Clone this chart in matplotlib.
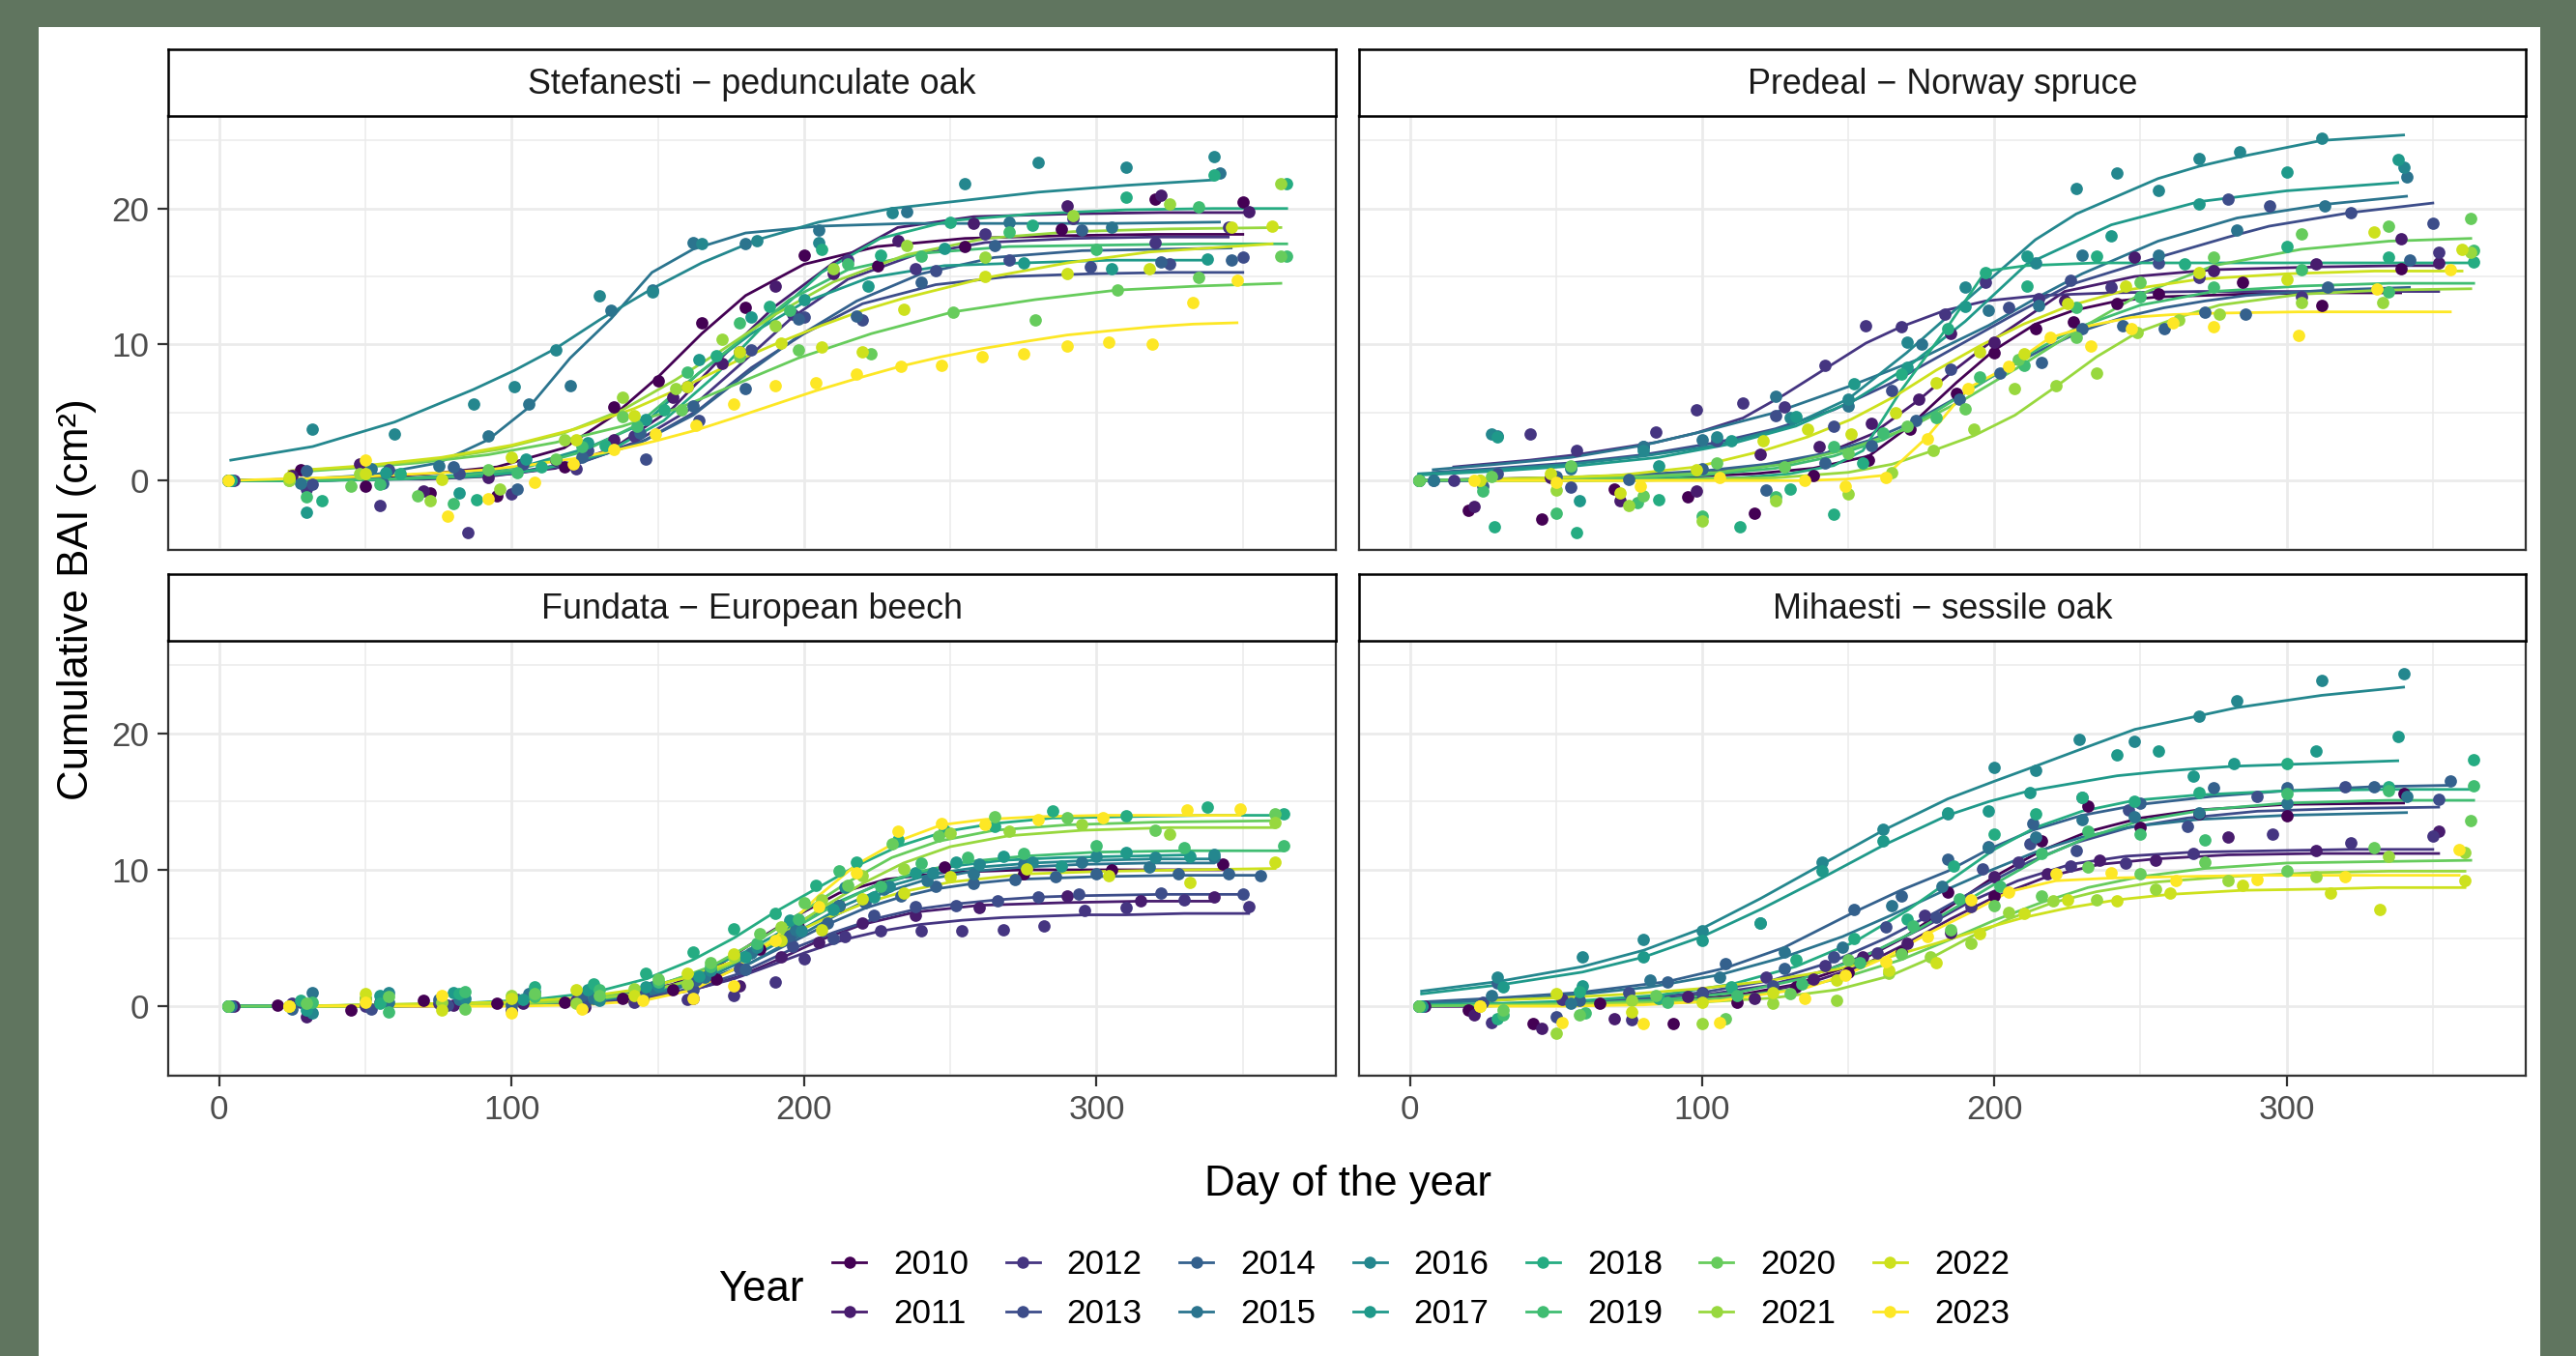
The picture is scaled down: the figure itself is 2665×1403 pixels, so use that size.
import matplotlib
matplotlib.use('Agg')
import matplotlib.pyplot as plt
from matplotlib.lines import Line2D
from matplotlib.patches import Rectangle
import numpy as np

plt.rcParams['font.family'] = ['Liberation Sans', 'DejaVu Sans']

years = list(range(2010, 2024))
panel_titles = ['Stefanesti − pedunculate oak', 'Predeal − Norway spruce',
                'Fundata − European beech', 'Mihaesti − sessile oak']

# ---------------- Stefanesti (pedunculate oak) ----------------
stef_days = [
    [3, 28, 50, 72, 95, 118, 135, 150, 165, 180, 200, 225, 255, 288, 320, 350],
    [3, 25, 48, 70, 92, 115, 135, 155, 172, 190, 210, 232, 258, 290, 322, 352],
    [5, 30, 55, 85, 100, 122, 142, 160, 178, 196, 215, 238, 262, 292, 320, 345],
    [4, 32, 58, 82, 104, 126, 146, 164, 182, 200, 220, 245, 270, 298, 325, 350],
    [3, 30, 56, 80, 102, 124, 144, 162, 180, 198, 218, 240, 265, 295, 322, 346],
    [3, 28, 52, 75, 92, 106, 120, 134, 148, 162, 180, 205, 235, 270, 305, 342],
    [4, 32, 60, 87, 101, 115, 130, 148, 165, 184, 205, 230, 255, 280, 310, 340],
    [3, 30, 57, 82, 105, 126, 146, 164, 182, 200, 222, 248, 275, 305, 338],
    [4, 35, 62, 88, 110, 132, 152, 170, 188, 206, 226, 250, 278, 310, 340, 365],
    [3, 30, 55, 80, 102, 124, 143, 160, 178, 195, 215, 240, 270, 300, 335, 365],
    [24, 45, 68, 92, 115, 138, 158, 178, 198, 223, 251, 279, 307, 335, 363],
    [24, 48, 72, 96, 118, 138, 156, 172, 190, 210, 235, 262, 292, 325, 363],
    [24, 50, 76, 100, 122, 142, 160, 178, 192, 206, 220, 234, 262, 290, 318, 346, 360],
    [3, 50, 78, 92, 108, 121, 135, 149, 163, 176, 190, 204, 218, 233, 247, 261, 275, 290, 304, 319, 333, 348],
]
stef_fit = [
    [0.0, 0.1, 0.2, 0.5, 1.0, 2.4, 4.8, 7.6, 10.8, 13.6, 15.9, 17.2, 17.8, 18.0, 18.1, 18.1],
    [0.0, 0.0, 0.1, 0.1, 0.3, 0.9, 2.4, 5.3, 9.1, 12.8, 16.0, 18.6, 19.4, 19.6, 19.7, 19.7],
    [0.0, 0.0, 0.1, 0.3, 0.5, 1.2, 2.8, 5.1, 8.5, 12.0, 14.8, 16.6, 17.5, 17.8, 17.9, 17.9],
    [0.0, 0.0, 0.1, 0.3, 0.7, 1.5, 3.0, 5.2, 8.3, 10.8, 13.0, 14.4, 15.0, 15.2, 15.3, 15.3],
    [0.0, 0.0, 0.1, 0.3, 0.6, 1.4, 2.8, 4.8, 7.8, 10.6, 13.2, 15.2, 16.4, 16.9, 17.0, 17.1],
    [0.0, 0.1, 0.4, 1.3, 3.0, 5.4, 9.0, 11.9, 15.3, 17.0, 18.2, 18.7, 18.9, 18.9, 18.9, 19.0],
    [1.5, 2.5, 4.3, 6.7, 8.1, 9.7, 11.8, 14.1, 16.0, 17.7, 19.0, 20.0, 20.6, 21.2, 21.7, 22.1],
    [0.0, 0.0, 0.1, 0.4, 1.1, 2.4, 4.3, 7.9, 10.8, 13.1, 14.9, 15.8, 16.0, 16.2, 16.2],
    [0.0, 0.0, 0.1, 0.3, 0.8, 2.0, 4.4, 7.8, 11.8, 15.3, 17.8, 19.1, 19.6, 19.9, 20.0, 20.0],
    [0.0, 0.0, 0.1, 0.3, 0.8, 2.1, 4.1, 7.2, 10.3, 13.3, 15.5, 16.7, 17.2, 17.3, 17.4, 17.4],
    [0.6, 0.9, 1.3, 1.9, 2.8, 4.0, 5.4, 7.2, 9.0, 10.8, 12.4, 13.3, 14.0, 14.3, 14.5],
    [0.7, 1.0, 1.5, 2.3, 3.5, 5.2, 7.4, 9.6, 12.2, 14.6, 16.6, 17.8, 18.3, 18.5, 18.6],
    [0.7, 1.1, 1.7, 2.6, 3.8, 5.3, 7.0, 8.9, 10.2, 11.4, 12.5, 13.4, 14.9, 16.0, 16.8, 17.2, 17.4],
    [0.0, 0.3, 0.6, 0.8, 1.2, 1.6, 2.2, 2.9, 3.7, 4.6, 5.6, 6.6, 7.5, 8.4, 9.1, 9.7, 10.2, 10.7, 11.0, 11.3, 11.5, 11.6],
]
stef_obs = [
    [0.0, 0.8, -0.4, -0.9, -1.1, 1.0, 5.4, 7.3, 11.6, 12.7, 16.6, 15.8, 17.2, 18.5, 20.7, 20.5],
    [0.0, 0.4, 1.2, -0.8, 0.2, 1.5, 3.0, 6.1, 8.6, 14.3, 15.2, 17.6, 18.9, 20.2, 21.0, 19.8],
    [0.0, -0.6, -1.8, -3.8, -1.0, 0.9, 3.3, 6.9, 9.5, 12.2, 16.2, 15.6, 18.1, 19.3, 17.5, 18.6],
    [0.0, -0.3, 0.8, 0.5, 1.2, 2.2, 1.6, 4.4, 9.6, 12.0, 11.8, 15.4, 16.2, 15.7, 15.9, 16.4],
    [0.0, 0.7, -0.2, 1.0, -0.6, 1.7, 3.5, 5.5, 6.8, 11.9, 12.1, 14.6, 17.3, 18.4, 16.1, 16.2],
    [0.0, -0.2, 0.9, 1.1, 3.3, 5.6, 7.0, 12.5, 14.0, 17.5, 17.4, 18.4, 19.8, 19.0, 18.6, 22.6],
    [0.0, 3.8, 3.4, 5.6, 6.9, 9.6, 13.6, 13.9, 17.4, 17.6, 17.5, 19.7, 21.8, 23.4, 23.0, 23.8],
    [0.0, -2.3, 0.6, -0.9, 1.6, 2.8, 4.5, 8.9, 12.0, 13.3, 14.3, 17.1, 16.0, 15.6, 16.3],
    [0.0, -1.5, 0.5, -1.4, 1.0, 2.6, 5.2, 9.2, 12.8, 17.0, 16.6, 19.0, 18.8, 20.8, 22.5, 21.8],
    [0.0, -1.2, -0.3, -1.7, 0.6, 2.5, 4.0, 8.0, 11.6, 12.5, 15.9, 16.5, 18.3, 17.0, 20.1, 16.5],
    [0.0, -0.4, -1.1, 0.8, 1.6, 4.7, 5.2, 9.1, 9.6, 9.3, 12.4, 11.8, 14.0, 14.9, 16.5],
    [0.0, 0.5, -1.5, -0.6, 3.0, 6.1, 6.8, 10.4, 11.4, 15.6, 17.3, 16.4, 19.5, 20.3, 21.8],
    [0.2, 0.5, 0.1, 1.7, 3.0, 4.8, 6.9, 9.5, 10.1, 9.8, 9.5, 12.6, 15.0, 15.2, 15.6, 18.6, 18.7],
    [0.0, 1.5, -2.6, -1.3, -0.1, 1.2, 2.3, 3.4, 4.1, 5.6, 7.0, 7.2, 7.8, 8.4, 8.5, 9.1, 9.3, 9.9, 10.2, 10.0, 13.1, 14.7],
]

# ---------------- Predeal (Norway spruce) ----------------
pred_days = [
    [3, 20, 45, 70, 95, 118, 138, 157, 171, 187, 200, 214, 227, 242, 256, 285, 312, 339],
    [3, 22, 48, 72, 98, 120, 140, 158, 174, 185, 200, 224, 248, 275, 310, 339, 352],
    [15, 41, 57, 84, 98, 114, 128, 142, 156, 168, 183, 197, 215, 240, 270, 305, 352],
    [8, 30, 55, 80, 105, 125, 145, 165, 185, 205, 226, 256, 280, 294, 322, 350],
    [3, 25, 50, 75, 100, 122, 142, 158, 173, 188, 202, 216, 230, 244, 258, 272, 286, 314, 342],
    [8, 30, 55, 80, 100, 125, 150, 175, 198, 215, 230, 256, 283, 313, 341],
    [3, 28, 55, 80, 105, 130, 150, 170, 190, 214, 228, 242, 256, 270, 284, 312, 340],
    [3, 30, 58, 85, 110, 132, 152, 170, 190, 211, 240, 270, 300, 338],
    [3, 29, 57, 85, 113, 130, 145, 155, 168, 184, 197, 211, 235, 265, 300, 335, 364],
    [3, 25, 50, 78, 100, 125, 145, 162, 180, 195, 210, 228, 250, 275, 305, 335, 364],
    [3, 28, 55, 80, 105, 128, 150, 170, 190, 208, 228, 250, 275, 305, 335, 363],
    [24, 50, 75, 100, 125, 150, 165, 179, 193, 207, 221, 235, 249, 263, 277, 305, 333, 363],
    [24, 48, 72, 98, 121, 136, 151, 166, 180, 195, 210, 225, 245, 270, 300, 330, 360],
    [22, 50, 79, 106, 135, 149, 163, 177, 191, 205, 219, 233, 247, 261, 275, 304, 331, 356],
]
pred_fit = [
    [0.0, 0.0, 0.1, 0.1, 0.3, 0.5, 0.9, 1.8, 4.0, 7.2, 9.6, 11.5, 12.5, 13.2, 13.5, 13.7, 13.8, 13.8],
    [0.0, 0.1, 0.2, 0.3, 0.5, 1.0, 1.8, 3.4, 5.9, 7.9, 10.4, 13.9, 15.0, 15.5, 15.7, 15.8, 15.8],
    [1.0, 1.5, 1.9, 2.8, 3.5, 4.6, 6.3, 8.2, 10.1, 11.3, 12.5, 13.2, 13.6, 13.8, 13.9, 13.9, 13.9],
    [0.6, 0.9, 1.3, 1.9, 2.8, 3.8, 5.2, 7.2, 9.6, 12.0, 14.4, 16.4, 17.9, 18.7, 19.7, 20.4],
    [0.0, 0.1, 0.2, 0.4, 0.7, 1.2, 2.0, 3.0, 4.4, 6.2, 8.0, 9.6, 11.0, 12.0, 12.7, 13.2, 13.6, 14.0, 14.2],
    [0.8, 1.2, 1.7, 2.6, 3.6, 5.0, 6.9, 9.0, 11.4, 13.5, 15.2, 17.6, 19.3, 20.3, 20.9],
    [0.5, 0.8, 1.2, 1.8, 2.6, 4.0, 6.0, 9.4, 13.2, 17.7, 19.6, 20.9, 22.2, 23.1, 23.8, 25.0, 25.4],
    [0.4, 0.7, 1.1, 1.7, 2.7, 4.0, 5.9, 8.3, 11.7, 15.9, 18.8, 20.5, 21.3, 21.9],
    [0.0, 0.0, 0.0, 0.1, 0.2, 0.5, 1.1, 2.2, 6.6, 11.3, 15.4, 15.8, 16.0, 16.0, 16.0, 16.0, 16.0],
    [0.0, 0.1, 0.1, 0.2, 0.4, 0.9, 1.8, 3.0, 5.1, 7.1, 9.1, 11.2, 12.9, 13.9, 14.3, 14.5, 14.5],
    [0.0, 0.1, 0.2, 0.3, 0.6, 1.2, 2.3, 3.8, 6.0, 8.3, 11.0, 13.7, 15.8, 17.0, 17.6, 17.8],
    [0.0, 0.0, 0.0, 0.1, 0.2, 0.6, 1.2, 2.2, 3.3, 4.8, 6.9, 9.1, 10.9, 12.0, 12.9, 13.7, 14.0, 14.1],
    [0.1, 0.2, 0.4, 1.0, 2.2, 3.2, 4.5, 6.2, 8.1, 9.9, 11.5, 12.8, 14.0, 14.8, 15.2, 15.4, 15.4],
    [0.0, 0.0, 0.0, 0.0, 0.0, 0.1, 0.4, 3.2, 6.8, 8.4, 10.5, 11.4, 12.0, 12.2, 12.3, 12.4, 12.4, 12.4],
]
pred_obs = [
    [0.0, -2.2, -2.8, -0.6, -1.2, -2.4, 0.4, 1.5, 3.8, 6.4, 9.4, 11.2, 11.7, 13.0, 13.7, 14.6, 12.9, 15.6],
    [0.0, -1.9, 0.2, -1.5, -0.8, 1.9, 2.5, 4.2, 6.0, 10.8, 10.2, 13.2, 16.4, 15.4, 15.9, 17.8, 16.0],
    [0.0, 3.4, 2.2, 3.6, 5.2, 5.7, 5.4, 8.5, 11.4, 11.3, 12.2, 14.6, 13.4, 14.2, 14.9, 13.5, 16.8],
    [0.0, 0.5, -0.5, 2.5, 2.9, 4.8, 4.0, 6.6, 8.2, 12.7, 14.7, 16.0, 20.7, 20.2, 19.7, 18.9],
    [0.0, -0.4, 0.3, 0.1, 0.9, -0.7, 1.3, 2.6, 4.4, 6.0, 7.9, 8.7, 11.2, 11.4, 11.2, 12.4, 12.2, 14.2, 16.2],
    [0.0, 3.3, 0.9, 2.5, 3.0, 6.2, 5.5, 10.0, 12.5, 12.9, 16.6, 16.6, 18.4, 20.2, 22.3],
    [0.0, 3.4, 1.0, 2.2, 3.2, 4.6, 6.0, 10.2, 14.2, 16.0, 21.5, 22.6, 21.3, 23.7, 24.2, 25.2, 23.0],
    [0.0, 3.2, -1.5, 1.1, 2.9, 4.7, 7.1, 8.3, 12.8, 16.5, 18.0, 20.3, 22.7, 23.6],
    [0.0, -3.4, -3.8, -1.4, -3.4, -0.6, -2.5, 1.3, 7.8, 11.2, 15.3, 14.3, 16.5, 15.9, 17.2, 16.4, 16.1],
    [0.0, -0.8, -2.4, -1.6, -2.6, -1.2, 2.5, 3.5, 4.6, 7.6, 8.5, 12.7, 13.5, 14.2, 15.5, 13.9, 16.9],
    [0.0, 0.3, 1.1, -1.1, 1.3, 1.0, 2.0, 4.0, 5.3, 8.9, 10.5, 14.6, 16.4, 18.1, 18.7, 19.3],
    [0.0, -0.7, -1.8, -3.0, -1.5, -1.0, 0.6, 2.2, 3.8, 6.8, 7.0, 7.9, 10.9, 11.8, 12.2, 13.1, 13.1, 16.8],
    [0.0, 0.5, -0.9, 0.8, 2.9, 3.8, 3.4, 5.0, 7.2, 9.5, 9.3, 13.0, 14.3, 15.3, 14.8, 18.3, 17.0],
    [0.0, -0.1, -0.4, 0.2, 0.0, -0.4, 0.2, 3.1, 6.8, 8.4, 10.5, 9.9, 11.2, 11.6, 11.3, 10.7, 14.1, 15.5],
]

# ---------------- Fundata (European beech) ----------------
fund_days = [
    [3, 20, 45, 70, 95, 118, 138, 155, 170, 185, 198, 212, 228, 248, 275, 305, 343],
    [5, 30, 55, 80, 104, 125, 145, 162, 178, 192, 205, 220, 238, 260, 290, 315, 340],
    [4, 25, 50, 75, 100, 122, 142, 160, 176, 190, 200, 214, 226, 240, 254, 268, 282, 296, 310, 330, 352],
    [3, 28, 52, 78, 102, 125, 145, 162, 178, 196, 210, 224, 238, 252, 266, 280, 294, 322, 350],
    [3, 25, 50, 75, 100, 124, 145, 163, 180, 195, 208, 221, 233, 245, 258, 272, 286, 300, 328, 345, 356],
    [4, 32, 58, 82, 106, 128, 148, 166, 182, 197, 212, 227, 242, 258, 275, 295, 318, 340],
    [3, 32, 58, 84, 108, 130, 150, 168, 184, 199, 214, 229, 244, 260, 278, 300, 320, 340],
    [3, 30, 55, 80, 104, 126, 146, 164, 180, 195, 210, 224, 238, 252, 268, 288, 310, 332],
    [3, 28, 55, 82, 108, 128, 146, 162, 176, 190, 204, 218, 232, 248, 265, 285, 310, 338, 364],
    [3, 32, 58, 84, 108, 130, 150, 168, 184, 198, 212, 226, 240, 256, 275, 300, 330, 364],
    [3, 30, 58, 84, 108, 130, 150, 168, 185, 200, 215, 230, 246, 265, 290, 320, 361],
    [24, 50, 76, 100, 122, 142, 160, 176, 192, 206, 220, 234, 250, 270, 295, 325, 361],
    [24, 50, 76, 100, 122, 142, 160, 176, 192, 206, 220, 234, 250, 276, 304, 332, 361],
    [24, 50, 76, 100, 124, 145, 162, 176, 190, 205, 218, 232, 247, 262, 280, 302, 331, 349],
]
fund_fit = [
    [0.0, 0.0, 0.0, 0.0, 0.1, 0.3, 0.8, 1.6, 2.9, 5.0, 6.7, 8.3, 9.3, 9.8, 10.0, 10.0, 10.0],
    [0.0, 0.0, 0.0, 0.1, 0.1, 0.3, 0.6, 1.2, 2.2, 3.5, 4.8, 6.0, 6.9, 7.4, 7.6, 7.7, 7.7],
    [0.0, 0.0, 0.0, 0.1, 0.1, 0.2, 0.5, 1.1, 2.0, 3.1, 3.9, 4.9, 5.5, 6.0, 6.3, 6.5, 6.6, 6.7, 6.7, 6.8, 6.8],
    [0.0, 0.0, 0.0, 0.1, 0.1, 0.3, 0.7, 1.3, 2.4, 4.2, 5.4, 6.4, 7.1, 7.5, 7.8, 8.0, 8.1, 8.2, 8.2],
    [0.0, 0.0, 0.0, 0.1, 0.2, 0.4, 0.9, 1.7, 3.0, 4.6, 6.0, 7.2, 8.0, 8.6, 9.0, 9.3, 9.4, 9.5, 9.6, 9.6, 9.6],
    [0.0, 0.0, 0.0, 0.1, 0.2, 0.4, 0.9, 1.8, 3.2, 5.0, 6.8, 8.3, 9.3, 9.9, 10.2, 10.4, 10.5, 10.5],
    [0.0, 0.0, 0.0, 0.1, 0.2, 0.5, 1.1, 2.2, 3.8, 5.6, 7.4, 8.8, 9.7, 10.2, 10.5, 10.7, 10.8, 10.8],
    [0.0, 0.0, 0.1, 0.1, 0.3, 0.6, 1.3, 2.5, 4.0, 5.8, 7.5, 8.8, 9.7, 10.3, 10.7, 10.9, 11.0, 11.1],
    [0.0, 0.0, 0.1, 0.2, 0.5, 1.0, 2.0, 3.4, 5.0, 6.9, 8.6, 10.3, 11.7, 12.8, 13.4, 13.8, 13.9, 14.0, 14.0],
    [0.0, 0.0, 0.0, 0.1, 0.2, 0.5, 1.2, 2.4, 4.0, 5.9, 7.6, 9.0, 9.9, 10.6, 11.0, 11.3, 11.4, 11.4],
    [0.0, 0.0, 0.1, 0.1, 0.3, 0.7, 1.5, 2.9, 4.9, 7.0, 9.1, 10.9, 12.1, 12.9, 13.3, 13.5, 13.6],
    [0.0, 0.0, 0.1, 0.2, 0.4, 0.9, 1.8, 3.2, 5.2, 7.2, 9.0, 10.5, 11.7, 12.5, 12.9, 13.1, 13.1],
    [0.0, 0.1, 0.2, 0.3, 0.6, 1.2, 2.1, 3.3, 4.9, 6.3, 7.5, 8.4, 9.1, 9.7, 9.9, 10.0, 10.1],
    [0.0, 0.0, 0.0, 0.0, 0.1, 0.4, 1.2, 2.7, 5.0, 8.1, 10.4, 12.1, 13.3, 13.7, 13.9, 14.0, 14.0, 14.0],
]
fund_obs = [
    [0.0, 0.1, -0.3, 0.4, 0.2, 0.3, 0.6, 1.2, 2.0, 4.2, 5.8, 7.4, 8.7, 10.2, 9.7, 10.0, 10.4],
    [0.0, -0.8, 0.3, 0.1, 0.2, -0.1, 0.6, 0.6, 1.5, 3.6, 4.7, 6.1, 6.7, 7.2, 8.1, 7.7, 8.0],
    [0.0, 0.2, 0.0, 0.2, -0.3, 0.4, 0.3, 0.5, 0.8, 1.8, 3.5, 5.1, 5.5, 5.5, 5.5, 5.6, 5.9, 7.0, 7.2, 7.8, 7.3],
    [0.0, 0.3, -0.2, 0.1, 0.5, 0.2, 0.9, 1.2, 2.8, 4.4, 5.0, 6.7, 7.3, 7.4, 7.7, 8.0, 8.2, 8.3, 8.2],
    [0.0, -0.2, 0.6, 0.5, 0.1, 0.8, 0.6, 1.9, 2.7, 5.2, 6.1, 7.6, 8.1, 8.8, 9.0, 9.3, 9.5, 9.7, 9.7, 9.7, 9.6],
    [0.0, 1.0, 0.3, 0.5, 0.9, 0.6, 1.4, 2.1, 3.9, 5.6, 7.4, 8.6, 9.2, 9.7, 10.4, 10.6, 10.2, 10.9],
    [0.0, -0.5, 1.0, 0.6, 1.1, 0.4, 1.5, 2.6, 4.3, 5.5, 8.7, 8.8, 9.8, 10.4, 10.6, 11.0, 10.9, 11.1],
    [0.0, -0.3, 0.8, 1.0, 0.5, 1.2, 1.4, 2.2, 3.6, 6.3, 7.1, 8.0, 9.8, 10.6, 11.0, 10.3, 11.3, 11.0],
    [0.0, 0.4, 0.2, 0.9, 1.4, 1.6, 2.4, 4.0, 5.7, 6.8, 8.9, 10.6, 12.2, 12.9, 13.2, 14.3, 14.0, 14.6, 14.1],
    [0.0, 0.3, -0.4, 1.1, 0.7, 1.2, 1.8, 2.9, 4.6, 6.4, 9.9, 8.8, 10.5, 10.9, 11.2, 11.8, 11.6, 11.8],
    [0.0, 0.2, 0.7, -0.2, 0.9, 0.8, 2.0, 3.2, 5.3, 7.6, 8.9, 11.9, 12.5, 13.9, 13.8, 12.9, 14.1],
    [0.0, 0.6, 0.3, 0.8, 0.2, 1.3, 1.6, 3.6, 5.8, 7.8, 9.6, 10.1, 12.7, 12.8, 13.3, 12.6, 13.5],
    [0.0, 0.9, -0.3, 0.6, 1.2, 0.8, 2.4, 3.8, 4.8, 5.6, 7.9, 8.3, 9.5, 10.1, 9.6, 9.1, 10.6],
    [0.0, 0.3, 0.8, -0.5, -0.2, 0.4, 0.6, 1.5, 4.8, 7.3, 9.8, 12.8, 13.4, 13.3, 13.7, 13.8, 14.4, 14.5],
]

# ---------------- Mihaesti (sessile oak) ----------------
miha_days = [
    [3, 20, 42, 65, 90, 112, 132, 150, 168, 184, 200, 216, 232, 250, 270, 300, 340],
    [5, 22, 45, 70, 95, 118, 138, 155, 170, 185, 200, 218, 236, 255, 280, 310, 352],
    [3, 28, 52, 76, 100, 122, 142, 160, 176, 192, 208, 226, 245, 268, 295, 322, 350],
    [3, 25, 50, 75, 100, 124, 145, 163, 180, 196, 212, 228, 246, 266, 290, 320, 352],
    [3, 30, 58, 88, 108, 128, 152, 168, 184, 198, 213, 230, 250, 275, 300, 330, 356],
    [3, 28, 55, 82, 106, 128, 148, 165, 182, 198, 214, 230, 248, 270, 300, 341],
    [4, 30, 59, 80, 100, 120, 141, 162, 184, 200, 214, 229, 248, 270, 283, 312, 340],
    [4, 32, 59, 80, 100, 120, 141, 162, 184, 198, 212, 242, 256, 268, 282, 310, 338],
    [3, 30, 58, 85, 110, 132, 152, 170, 186, 200, 214, 230, 248, 270, 300, 335, 364],
    [3, 32, 60, 88, 112, 134, 154, 172, 188, 202, 216, 232, 250, 272, 300, 335, 364],
    [3, 32, 58, 84, 108, 130, 150, 168, 185, 200, 216, 232, 250, 272, 300, 330, 363],
    [24, 50, 76, 100, 124, 146, 164, 178, 192, 205, 220, 235, 255, 280, 310, 335, 361],
    [24, 50, 76, 100, 124, 146, 164, 180, 195, 210, 225, 242, 260, 285, 315, 332, 361],
    [24, 52, 80, 106, 135, 149, 163, 177, 192, 205, 221, 240, 262, 290, 320, 359],
]
miha_fit = [
    [0.0, 0.0, 0.1, 0.2, 0.4, 0.8, 1.6, 2.9, 4.9, 7.2, 9.5, 11.4, 12.8, 13.8, 14.4, 14.8, 14.9],
    [0.0, 0.0, 0.1, 0.2, 0.4, 0.9, 1.8, 3.0, 4.6, 6.4, 8.0, 9.5, 10.4, 10.8, 11.1, 11.2, 11.2],
    [0.0, 0.1, 0.2, 0.4, 0.8, 1.5, 2.6, 4.1, 5.8, 7.7, 9.2, 10.4, 11.0, 11.3, 11.4, 11.5, 11.5],
    [0.0, 0.1, 0.2, 0.5, 1.0, 1.9, 3.3, 5.0, 6.9, 8.8, 10.6, 12.0, 13.1, 13.8, 14.3, 14.5, 14.6],
    [0.3, 0.6, 1.0, 1.8, 2.8, 4.3, 6.9, 8.5, 9.9, 11.5, 12.9, 14.0, 14.8, 15.4, 15.8, 16.1, 16.2],
    [0.2, 0.4, 0.8, 1.4, 2.3, 3.6, 5.1, 6.7, 8.4, 9.9, 11.3, 12.4, 13.2, 13.7, 14.0, 14.2],
    [1.1, 1.8, 2.9, 4.1, 5.7, 7.9, 10.4, 12.9, 15.2, 16.5, 17.6, 18.8, 20.3, 21.3, 21.9, 22.8, 23.4],
    [0.9, 1.6, 2.5, 3.6, 5.1, 7.1, 9.4, 11.8, 14.0, 15.0, 15.8, 16.9, 17.2, 17.4, 17.6, 17.8, 18.0],
    [0.1, 0.2, 0.4, 0.8, 1.6, 2.9, 4.7, 7.0, 9.4, 11.5, 13.1, 14.3, 15.1, 15.5, 15.8, 15.9, 15.9],
    [0.0, 0.1, 0.2, 0.5, 1.0, 2.0, 3.5, 5.4, 7.4, 9.2, 10.9, 12.4, 13.6, 14.4, 14.9, 15.1, 15.1],
    [0.0, 0.1, 0.2, 0.3, 0.6, 1.2, 2.2, 3.4, 4.9, 6.3, 7.6, 8.7, 9.5, 10.1, 10.5, 10.6, 10.7],
    [0.0, 0.1, 0.2, 0.3, 0.6, 1.2, 2.2, 3.5, 5.1, 6.4, 7.6, 8.4, 9.1, 9.5, 9.8, 9.9, 9.9],
    [0.4, 0.6, 0.9, 1.3, 1.9, 2.7, 3.6, 4.6, 5.6, 6.5, 7.2, 7.8, 8.2, 8.5, 8.6, 8.7, 8.7],
    [0.0, 0.0, 0.1, 0.4, 1.3, 2.3, 3.6, 5.3, 6.9, 8.4, 9.2, 9.4, 9.5, 9.6, 9.6, 9.6],
]
miha_obs = [
    [0.0, -0.3, -1.3, 0.2, -1.3, 0.3, 1.4, 2.5, 4.0, 8.4, 8.1, 12.1, 14.7, 13.1, 14.1, 14.0, 15.6],
    [0.0, -0.6, -1.6, -0.9, 0.7, 0.6, 2.0, 3.6, 4.6, 5.4, 9.5, 9.7, 10.7, 10.7, 12.4, 11.4, 12.8],
    [0.0, -1.2, 0.5, -1.0, 1.0, 2.1, 3.0, 3.9, 6.7, 7.3, 10.6, 10.3, 10.5, 11.2, 12.6, 12.0, 12.5],
    [0.0, 0.3, -0.8, 1.0, 0.9, 1.5, 3.6, 5.8, 6.5, 10.1, 11.9, 11.4, 14.4, 13.2, 15.4, 16.1, 15.2],
    [0.0, 1.7, 0.4, 1.8, 3.1, 2.8, 7.1, 8.1, 10.8, 11.7, 13.4, 15.3, 14.9, 16.0, 16.0, 16.1, 16.5],
    [0.0, 0.8, 0.2, 1.9, 2.1, 4.0, 4.3, 7.4, 8.8, 11.6, 12.4, 13.7, 13.9, 14.2, 14.9, 15.4],
    [0.0, 2.1, 3.6, 4.9, 5.5, 6.1, 10.6, 13.0, 14.1, 17.5, 17.3, 19.6, 19.4, 21.3, 22.4, 23.9, 24.4],
    [0.0, 1.4, 1.5, 3.6, 4.8, 6.1, 9.9, 12.1, 14.2, 14.3, 15.7, 18.4, 18.7, 16.9, 17.8, 18.7, 19.8],
    [0.0, -0.9, 1.1, 0.6, 1.4, 3.4, 5.0, 6.4, 10.3, 12.6, 14.1, 15.3, 15.0, 15.7, 17.8, 16.1, 18.1],
    [0.0, -0.6, -0.5, 0.3, 0.8, 1.6, 3.2, 5.9, 7.9, 8.8, 11.2, 12.8, 12.6, 12.2, 15.6, 15.8, 16.2],
    [0.0, -0.3, -0.6, 0.8, -0.9, 0.9, 3.4, 3.8, 5.6, 7.4, 8.1, 10.2, 9.7, 10.6, 9.9, 11.6, 13.6],
    [0.0, -2.0, 0.4, -1.3, 0.2, 0.4, 2.4, 3.6, 4.6, 6.9, 7.7, 7.8, 8.6, 9.2, 9.5, 11.0, 11.3],
    [0.0, 0.9, -0.4, 0.3, 1.0, 1.9, 2.6, 3.2, 5.3, 6.8, 7.8, 7.7, 8.3, 8.9, 8.3, 7.1, 9.2],
    [0.0, -1.2, -1.3, -1.2, 0.6, 2.3, 3.3, 5.1, 7.8, 8.4, 9.7, 9.8, 9.2, 9.3, 9.5, 11.5],
]

site_days = [stef_days, pred_days, fund_days, miha_days]
site_fit = [stef_fit, pred_fit, fund_fit, miha_fit]
site_obs = [stef_obs, pred_obs, fund_obs, miha_obs]

# ---------------- figure ----------------
W, H = 2665, 1403
fig = plt.figure(figsize=(W / 100, H / 100), dpi=100, facecolor='#60755f')
# white card on the green background (behind the axes)
fig.patches.append(Rectangle((40 / W, 0), (2628 - 40) / W, (H - 28) / H,
                             transform=fig.transFigure, facecolor='white',
                             edgecolor='none', zorder=-10))

colors = plt.cm.viridis(np.linspace(0, 1, len(years)))


def px_axes(x0, y0, x1, y1):
    # pixel box (top-left origin) -> figure axes
    return fig.add_axes([x0 / W, 1 - y1 / H, (x1 - x0) / W, (y1 - y0) / H])


cols_px = [(174, 1382), (1406, 2613)]
rows_px = [(51, 120, 569), (594, 663, 1113)]  # strip top, plot top, plot bottom

tick_fs = 25.2
for k in range(4):
    r, c = divmod(k, 2)
    x0, x1 = cols_px[c]
    st, pt, pb = rows_px[r]

    ax = px_axes(x0, pt, x1, pb)
    ax.set_facecolor('white')
    ax.set_xlim(-17.4, 381.8)
    ax.set_ylim(-5.1, 26.8)
    ax.set_xticks([0, 100, 200, 300])
    ax.set_xticks([50, 150, 250, 350], minor=True)
    ax.set_yticks([0, 10, 20])
    ax.set_yticks([-5, 5, 15, 25], minor=True)
    ax.grid(which='major', color='#EBEBEB', lw=2.0)
    ax.grid(which='minor', color='#EBEBEB', lw=1.1)
    ax.set_axisbelow(True)
    for sp in ax.spines.values():
        sp.set_color('#333333')
        sp.set_linewidth(1.6)
    ax.tick_params(which='minor', length=0)
    ax.tick_params(which='major', length=8, width=1.6, color='#333333',
                   labelsize=tick_fs, labelcolor='#4D4D4D', pad=6)
    if c == 1:
        ax.tick_params(left=False, labelleft=False)
    if r == 0:
        ax.tick_params(bottom=False, labelbottom=False)

    days, fit, obs = site_days[k], site_fit[k], site_obs[k]
    for i in range(len(years)):
        ax.plot(days[i], fit[i], color=colors[i], lw=2.0, zorder=2)
    for i in range(len(years)):
        ax.scatter(days[i], obs[i], color=colors[i], s=84, lw=0, zorder=3)

    # facet strip
    sax = px_axes(x0, st, x1, pt)
    sax.set_facecolor('white')
    sax.set_xticks([])
    sax.set_yticks([])
    for sp in sax.spines.values():
        sp.set_color('black')
        sp.set_linewidth(1.8)
    sax.text(0.5, 0.47, panel_titles[k], ha='center', va='center',
             fontsize=25.8, color='#1A1A1A', transform=sax.transAxes)

# axis titles
fig.text(1394 / W, 1 - 1225 / H, 'Day of the year', ha='center', va='center',
         fontsize=31.5, color='black')
fig.text(80 / W, 1 - 620 / H, 'Cumulative BAI (cm²)', ha='center', va='center',
         rotation=90, fontsize=31.5, color='black')

# legend
handles = [Line2D([0], [0], color=colors[i], lw=2.0, marker='o', markersize=9,
                  markeredgewidth=0) for i in range(len(years))]
fig.legend(handles, [str(y) for y in years], ncol=7, loc='center',
           bbox_to_anchor=(1470 / W, 1 - 1334 / H), frameon=False,
           fontsize=tick_fs, handlelength=1.0, handletextpad=0.8,
           columnspacing=1.1, labelspacing=0.5)
fig.text(743 / W, 1 - 1334 / H, 'Year', ha='left', va='center',
         fontsize=31.5, color='black')

fig.savefig('out.png', dpi=100, facecolor=fig.get_facecolor())
